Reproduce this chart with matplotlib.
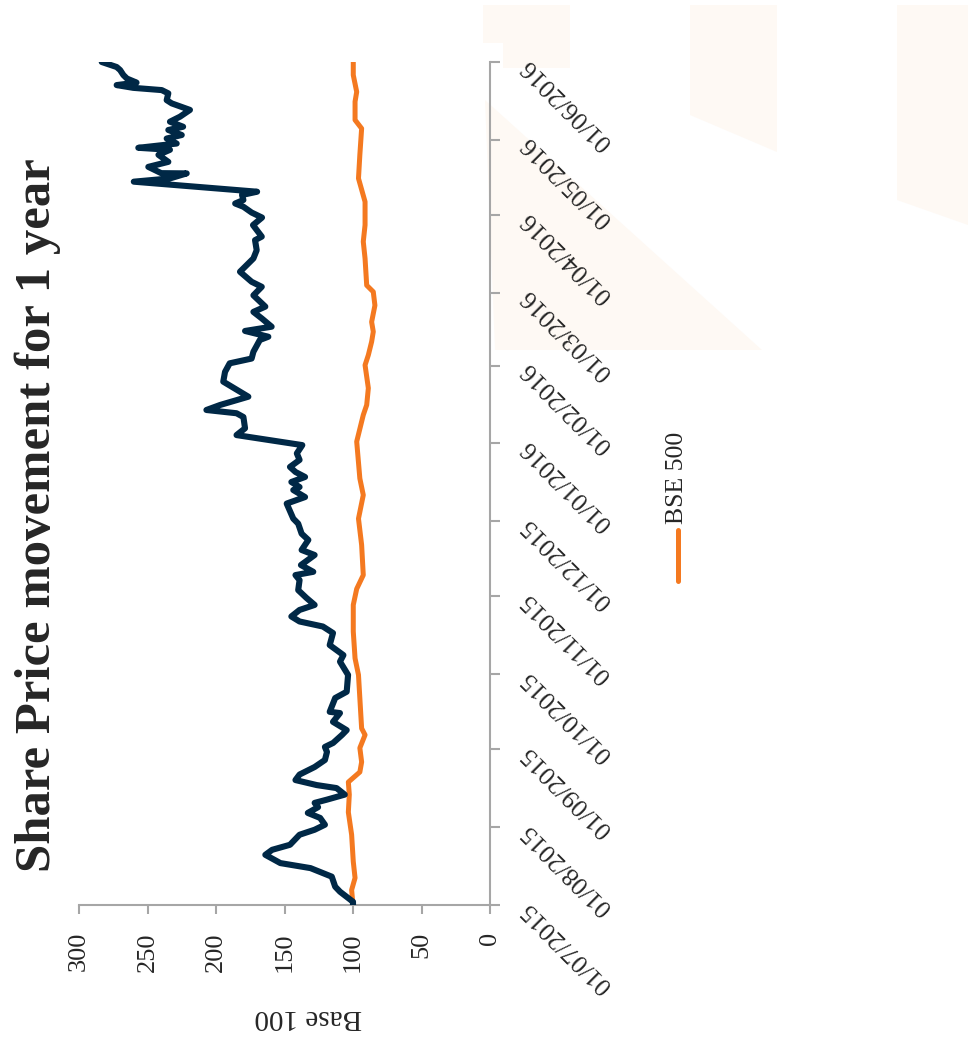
import numpy as np
import pandas as pd
import matplotlib
matplotlib.use('Agg')
import matplotlib.pyplot as plt
import matplotlib.dates as mdates
from matplotlib.lines import Line2D
from matplotlib.patches import Polygon

plt.rcParams['font.family'] = ['Liberation Serif', 'DejaVu Serif']

start = pd.Timestamp('2015-07-01')

# company share price, rebased to 100 (days since 01/07/2015, value)
co_days = [0, 1.3, 5.3, 7.3, 11.3, 14.7, 16.7, 20, 22, 24, 28, 30, 32, 34.7, 36.7, 39, 40.7,
           42, 44, 46.6, 47.8, 49.8, 52, 55, 57.8, 61, 63, 64.6, 67.8, 69.7, 73, 76.5, 77,
           82.5, 85, 91.7, 97, 99.6, 103.6, 108.4, 111, 113, 115, 117.6, 119.6, 122.4, 125.5,
           129.5, 131.5, 132.8, 135.5, 139.5, 141.5, 145.5, 148, 152, 154, 160, 162.6, 165.4,
           166.6, 168.6, 170.6, 172.6, 174.6, 177.4, 180, 183.3, 187.3, 190, 194.5, 196, 197.3,
           199.3, 202.6, 208.6, 212.5, 215.9, 217.8, 220.5, 225.2, 226.5, 228.8, 230.5, 233.8,
           236.4, 238.5, 243, 246.4, 248.4, 252.4, 257.7, 261, 265, 266.4, 271, 274, 276,
           278.3, 279.6, 281, 283, 284.3, 288.3, 289.6, 291.6, 291.7, 294.2, 296.2, 299, 301,
           301.8, 303.5, 305.5, 306.9, 308.9, 310.2, 312.2, 314.2, 316.9, 319.5, 320.8, 323.5,
           324.8, 325.7, 326.8, 327.8, 329.4, 330.8, 332.8, 334, 336]
co_vals = [100, 100, 109.5, 113, 115.5, 131, 153, 164, 159, 146, 139, 128, 120.5, 124, 133, 125.5, 128,
           119, 106, 112, 126.5, 142, 139, 128, 120.5, 119, 120.5, 114.5, 108, 104.6, 114.6, 109.5, 117,
           113, 104.6, 103.6, 109.5, 107, 117, 114.6, 122, 139, 145, 139, 128, 134, 140,
           139, 142, 129, 138, 128, 137.5, 132.6, 137.5, 140, 143.6, 148.4, 135, 143.6,
           139, 145, 135, 142, 146, 139, 141, 137, 185, 178.8, 180, 185, 207,
           197, 176.4, 194.7, 193.4, 190, 174, 172.7, 168, 161.8, 178.8, 159.4, 166.6,
           172.7, 164, 172.7, 166.6, 174, 182.5, 172.7, 170.3, 171.5, 166.6, 173, 166.4, 174,
           180, 186, 180, 181, 170, 260, 233.6, 221.4, 240, 249.4, 234.8, 242, 233.6,
           256.7, 228.7, 236, 225, 234.8, 224, 233.6, 226.3, 219, 232.3, 236, 234.8,
           239.6, 260.4, 272.5, 258, 265, 267.6, 270, 272.5, 283.4]

# BSE 500, rebased to 100
bse_days = [0, 6, 10.8, 17.3, 28, 37, 44, 49, 53, 57, 62.6, 67.8, 70.4, 82.4, 91.7, 98.3, 109,
            119.6, 126, 131.5, 143.5, 154, 163.4, 170, 184.7, 195.3, 199.3, 206, 215.2, 219.2,
            224.5, 228.5, 232.4, 239, 244.4, 247, 257.7, 264.4, 271, 280.3, 289.6, 299, 309.5,
            312.9, 320.2, 324.1, 330.8, 336]
bse_vals = [100, 101, 98.5, 99.8, 101, 103.4, 102.7, 103.4, 95, 93.7, 95, 91.2, 93.7, 95, 96, 98.5, 99.8,
            99.8, 97.3, 92.5, 93.7, 96, 92.5, 95, 97.3, 92.5, 90, 88.8, 91.2, 88.8,
            86.4, 85.2, 86.4, 84, 85.2, 90, 91.2, 92.5, 91.2, 91.2, 96, 95, 93.7,
            98.5, 98.5, 97.3, 99.8, 99.8]

value_ticks = [0, 50, 100, 150, 200, 250, 300]

navy = '#002846'
orange = '#F47920'
grey = '#A6A6A6'
txt = '#262626'

co_dates = start + pd.to_timedelta(co_days, unit='D')
bse_dates = start + pd.to_timedelta(bse_days, unit='D')

W, H = 968, 1046
fig = plt.figure(figsize=(W / 100, H / 100), dpi=100)

# faint background blotches (behind everything)
blot = '#FEF9F4'
bg = fig.add_axes([0, 0, 1, 1], zorder=0)
bg.set_xlim(0, W)
bg.set_ylim(H, 0)
bg.axis('off')
for pts in [
    [(483, 5), (570, 5), (570, 68), (503, 68), (503, 43), (483, 43)],
    [(485, 100), (762, 350), (495, 350)],
    [(690, 5), (777, 5), (777, 152), (690, 115)],
    [(897, 5), (968, 5), (968, 225), (897, 200)],
]:
    bg.add_patch(Polygon(pts, closed=True, facecolor=blot, edgecolor='none'))

ax = fig.add_axes([79 / W, 1 - 905 / H, (490 - 79) / W, (905 - 62) / H], zorder=2)
ax.set_facecolor('none')

ax.plot(co_vals, co_dates, color=navy, lw=4.4, solid_joinstyle='round', solid_capstyle='round', zorder=3)
ax.plot(bse_vals, bse_dates, color=orange, lw=3.6, solid_joinstyle='round', solid_capstyle='round', zorder=2)

ax.set_xlim(300, 0)
ax.set_ylim(start, pd.Timestamp('2016-06-01'))
ax.set_xticks(value_ticks)
ax.yaxis.set_major_locator(mdates.MonthLocator(bymonthday=1))
ax.yaxis.set_major_formatter(mdates.DateFormatter('%d/%m/%Y'))

for s in ['top', 'left']:
    ax.spines[s].set_visible(False)
for s in ['bottom', 'right']:
    ax.spines[s].set_color(grey)
    ax.spines[s].set_linewidth(1.5)

ax.yaxis.tick_right()
ax.tick_params(axis='x', direction='out', length=6.5, width=1.5, color=grey,
               labelsize=19, labelcolor=txt, pad=13)
ax.tick_params(axis='y', direction='out', length=7, width=1.5, color=grey,
               labelsize=18.5, labelcolor=txt, pad=18)
plt.setp(ax.get_xticklabels(), rotation=90)
plt.setp(ax.get_yticklabels(), rotation=135, ha='right', va='center', rotation_mode='anchor')

fig.text(38 / W, 1 - 515 / H, 'Share Price movement for 1 year', rotation=90,
         ha='center', va='center', fontsize=36.5, fontweight='bold', color=txt, zorder=3)
fig.text(308 / W, 1 - 1017 / H, 'Base 100', rotation=180, ha='center', va='center',
         fontsize=21, color=txt, zorder=3)

# legend (rotated like the rest of the chart)
fig.lines.append(Line2D([678 / W, 678 / W], [1 - 530 / H, 1 - 581 / H], transform=fig.transFigure,
                        color=orange, lw=3.6, solid_capstyle='round', zorder=3))
fig.text(677 / W, 1 - 478 / H, 'BSE 500', rotation=90, ha='center', va='center',
         fontsize=18.5, color=txt, zorder=3)

fig.savefig('out.png', dpi=100)
